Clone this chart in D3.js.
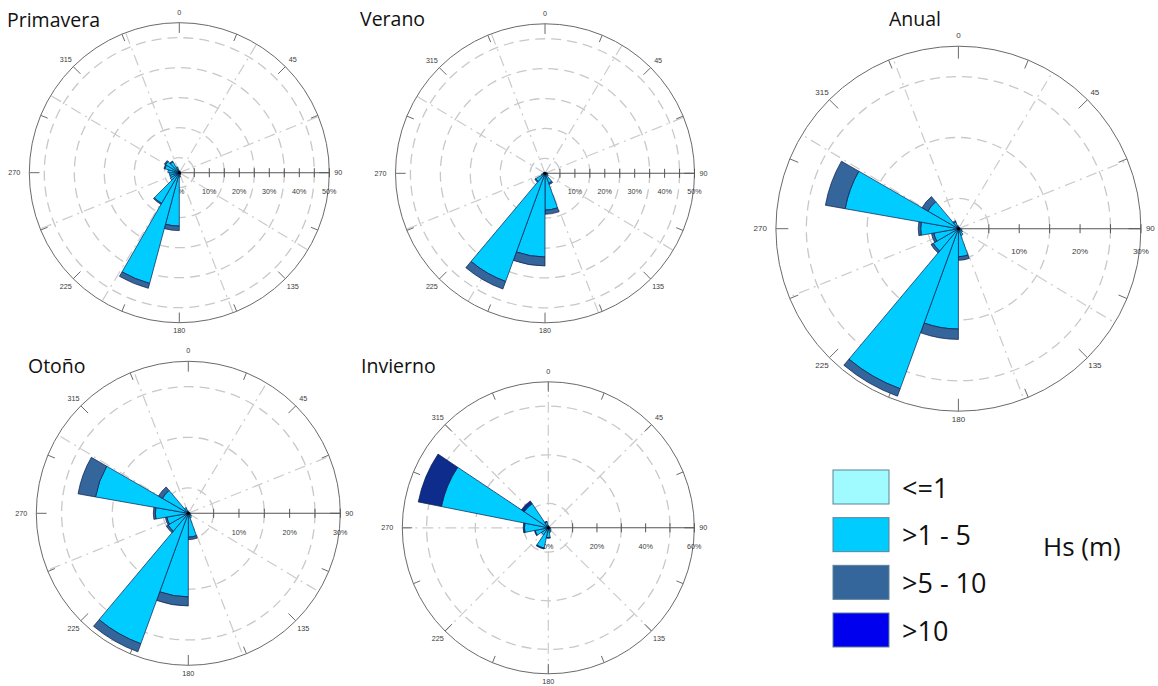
<!DOCTYPE html>
<html><head><meta charset="utf-8">
<script src="https://cdn.jsdelivr.net/npm/d3@7"></script>
<style>
html,body{margin:0;padding:0;background:#fff;}
svg{display:block;}
</style></head>
<body>
<svg id="chart" width="1158" height="686"></svg>
<script>
// ---------------- DATA ----------------
const hsClasses = ["<=1", ">1 - 5", ">5 - 10", ">10"];
const hsUnit = "Hs (m)";
const compassLabels = [0, 45, 90, 135, 180, 225, 270, 315];

// Primavera: 24 sectors of 15 deg (sector start angle)
const primaveraDirs = [0,15,30,45,60,75,90,105,120,135,150,165,180,195,210,225,240,255,270,285,300,315,330,345];
const primaveraLe1  = [0,0,0,0,0,0,0,0,0,0,0,0,0,0,0,0,0,0,0,0,0,0,0,0];
const primavera1to5 = [0.4,0.3,0.3,0.3,0.3,0.4,0.5,0.5,0.5,0.6,0.8,1.5,17.8,38.2,11.8,3.5,3.2,3.3,3.8,5.0,5.3,4.2,2.0,0.8];
const primavera5to10= [0,0,0,0,0,0,0,0,0,0,0,0,1.5,1.7,0.4,0,0,0,0,0.3,0.4,0.3,0,0];
const primaveraGt10 = [0,0,0,0,0,0,0,0,0,0,0,0,0,0,0,0,0,0,0,0,0,0,0,0];

// Verano: 18 sectors of 20 deg
const veranoDirs = [0,20,40,60,80,100,120,140,160,180,200,220,240,260,280,300,320,340];
const veranoLe1  = [0,0,0,0,0,0,0,0,0,0,0,0,0,0,0,0,0,0];
const verano1to5 = [0.3,0.3,0.3,0.4,0.8,1.0,1.2,3.5,12.3,28.0,38.5,3.6,1.2,0.6,0.5,0.4,0.3,0.3];
const verano5to10= [0,0,0,0,0,0,0,0.5,1.4,3.0,2.7,0.3,0,0,0,0,0,0];
const veranoGt10 = [0,0,0,0,0,0,0,0,0,0,0,0,0,0,0,0,0,0];

// Anual: 18 sectors of 20 deg
const anualDirs = [0,20,40,60,80,100,120,140,160,180,200,220,240,260,280,300,320,340];
const anualLe1  = [0,0,0,0,0,0,0,0,0,0,0,0,0,0,0,0,0,0];
const anual1to5 = [0.3,0.2,0.2,0.2,0.4,0.6,0.8,1.2,4.6,16.5,28.0,4.8,4.1,6.2,18.9,5.8,1.2,0.5];
const anual5to10= [0,0,0,0,0,0,0,0,0.6,1.7,1.3,0.4,0.4,0.4,3.3,1.1,0.2,0];
const anualGt10 = [0,0,0,0,0,0,0,0,0,0,0,0,0,0,0,0,0,0];

// Otoño: 18 sectors of 20 deg
const otonoDirs = [0,20,40,60,80,100,120,140,160,180,200,220,240,260,280,300,320,340];
const otonoLe1  = [0,0,0,0,0,0,0,0,0,0,0,0,0,0,0,0,0,0];
const otono1to5 = [0.3,0.2,0.2,0.2,0.4,0.5,0.7,1.0,4.7,16.5,27.4,4.6,4.3,6.5,18.6,5.9,1.2,0.5];
const otono5to10= [0,0,0,0,0,0,0,0,0.5,1.8,1.7,0.4,0.3,0.4,3.5,0.9,0,0];
const otonoGt10 = [0,0,0,0,0,0,0,0,0,0,0,0,0,0,0,0,0,0];

// Invierno: 16 sectors of 22.5 deg (sector centre angle)
const inviernoDirs = [0,22.5,45,67.5,90,112.5,135,157.5,180,202.5,225,247.5,270,292.5,315,337.5];
const inviernoLe1  = [0,0,0,0,0,0,0,0,0,0,0,0,0,0,0,0];
const invierno1to5 = [1.0,0.6,0.5,0.5,0.8,1.0,1.5,2.0,4.0,8.5,3.5,5.5,9.8,44.8,11.9,2.5];
const invierno5to10= [0,0,0,0,0,0,0,0,0.3,0.4,0,0.3,0.5,9.7,1.4,0.2];
const inviernoGt10 = [0,0,0,0,0,0,0,0,0,0,0,0,0,0,0,0];

// ---------------- STYLE / LAYOUT ----------------
const legendColors = ["#9ffbff", "#00ccff", "#34659b", "#0000ee"];
const spokesA = [31, 68, 121, 159, 211, 248, 301, 339];
const spokesB = [0, 45, 135, 180, 225, 270, 315];

const charts = [
  {title:"Primavera", tx:7, ty:27, cx:179.3, cy:172.7, R:150, max:50, step:5, lstep:10, bw:15, off:0,
   dirs:primaveraDirs, series:[primaveraLe1,primavera1to5,primavera5to10,primaveraGt10], spokes:spokesA,
   colors:["#9ffbff","#00ccff","#34659b","#0000ee"]},
  {title:"Verano", tx:360, ty:26, cx:545, cy:173.3, R:149.5, max:50, step:5, lstep:10, bw:20, off:0,
   dirs:veranoDirs, series:[veranoLe1,verano1to5,verano5to10,veranoGt10], spokes:spokesA,
   colors:["#9ffbff","#00ccff","#34659b","#0000ee"]},
  {title:"Anual", tx:889, ty:26, cx:958.4, cy:228.7, R:182.5, max:30, step:5, lstep:10, bw:20, off:0,
   dirs:anualDirs, series:[anualLe1,anual1to5,anual5to10,anualGt10], spokes:spokesA,
   colors:["#9ffbff","#00ccff","#34659b","#0000ee"]},
  {title:"Otoño", tx:28, ty:373, cx:188.3, cy:513.3, R:152, max:30, step:5, lstep:10, bw:20, off:0,
   dirs:otonoDirs, series:[otonoLe1,otono1to5,otono5to10,otonoGt10], spokes:spokesA,
   colors:["#9ffbff","#00ccff","#34659b","#0000ee"]},
  {title:"Invierno", tx:361, ty:373, cx:548.3, cy:527.8, R:146, max:60, step:10, lstep:20, bw:22.5, off:-11.25,
   dirs:inviernoDirs, series:[inviernoLe1,invierno1to5,invierno5to10,inviernoGt10], spokes:spokesB,
   colors:["#9ffbff","#00ccff","#0d2c8c","#0000ee"]}
];

const svg = d3.select("#chart");
const rad = d => d * Math.PI / 180;

charts.forEach(c => {
  const g = svg.append("g").attr("transform", `translate(${c.cx},${c.cy})`);
  const r = d3.scaleLinear().domain([0, c.max]).range([0, c.R]);

  // title
  svg.append("text").attr("x", c.tx).attr("y", c.ty)
    .attr("font-family", "'Open Sans', sans-serif").attr("font-size", 19.5)
    .attr("fill", "#111").text(c.title);

  // dashed circles at odd ticks
  const ticks = d3.range(c.step, c.max + 0.001, c.step);
  const dashed = ticks.filter((t, i) => i % 2 === 0);
  g.selectAll("circle.grid").data(dashed).join("circle")
    .attr("r", d => r(d)).attr("fill", "none")
    .attr("stroke", "#c8c8c8").attr("stroke-width", 1.3)
    .attr("stroke-dasharray", "10,6");

  // spokes (dash-dot)
  g.selectAll("line.spoke").data(c.spokes).join("line")
    .attr("x1", 0).attr("y1", 0)
    .attr("x2", d => c.R * Math.sin(rad(d))).attr("y2", d => -c.R * Math.cos(rad(d)))
    .attr("stroke", "#cbcbcb").attr("stroke-width", 1.2)
    .attr("stroke-dasharray", "11,5,2,5");

  // outer circle
  g.append("circle").attr("r", c.R).attr("fill", "none").attr("stroke", "#6a6a6a").attr("stroke-width", 1);

  // outer ticks every 22.5 deg
  const tickAngles = d3.range(0, 360, 22.5);
  g.selectAll("line.otick").data(tickAngles).join("line")
    .attr("x1", d => c.R * Math.sin(rad(d))).attr("y1", d => -c.R * Math.cos(rad(d)))
    .attr("x2", d => (c.R - (d % 45 === 0 ? c.R * 0.068 : c.R * 0.05)) * Math.sin(rad(d)))
    .attr("y2", d => -(c.R - (d % 45 === 0 ? c.R * 0.068 : c.R * 0.05)) * Math.cos(rad(d)))
    .attr("stroke", "#6a6a6a").attr("stroke-width", 1);

  // compass labels
  const lf = c.R > 170 ? 8 : 7.2;
  const lr = d => (d === 180 ? c.R + 8 : c.R + 10.5);
  g.selectAll("text.cl").data(compassLabels).join("text")
    .attr("x", d => {
      if (d === 90) return c.R + 5;
      if (d === 270) return -c.R - 9;
      return lr(d) * Math.sin(rad(d));
    })
    .attr("y", d => -lr(d) * Math.cos(rad(d)))
    .attr("text-anchor", d => d === 90 ? "start" : d === 270 ? "end" : "middle")
    .attr("dominant-baseline", "central")
    .attr("font-family", "'Liberation Sans', Arial, sans-serif").attr("font-size", lf)
    .attr("fill", "#3a3a3a").text(d => d);

  // 90-degree radial axis
  g.append("line").attr("x1", 0).attr("y1", 0).attr("x2", c.R).attr("y2", 0)
    .attr("stroke", "#555").attr("stroke-width", 1.1);
  g.selectAll("line.atick").data(ticks).join("line")
    .attr("x1", d => r(d)).attr("x2", d => r(d)).attr("y1", -4.5).attr("y2", 4.5)
    .attr("stroke", "#555").attr("stroke-width", 1);
  const pl = d3.range(0, c.max + 0.001, c.lstep);
  g.selectAll("text.pl").data(pl).join("text")
    .attr("x", d => r(d)).attr("y", c.R * 0.125)
    .attr("text-anchor", "middle").attr("dominant-baseline", "central")
    .attr("font-family", "'Liberation Sans', Arial, sans-serif").attr("font-size", lf)
    .attr("fill", "#3a3a3a").text(d => d + "%");

  // bars (stacked by Hs class)
  const arc = d3.arc();
  const bars = [];
  c.dirs.forEach((dir, i) => {
    let cum = 0;
    c.series.forEach((s, k) => {
      const v = s[i];
      if (v > 0) {
        bars.push({inner: cum, outer: cum + v, a0: dir + c.off, a1: dir + c.off + c.bw, k});
      }
      cum += v;
    });
  });
  g.selectAll("path.bar").data(bars).join("path")
    .attr("d", d => arc({innerRadius: r(d.inner), outerRadius: r(d.outer),
                         startAngle: rad(d.a0), endAngle: rad(d.a1)}))
    .attr("fill", d => c.colors[d.k])
    .attr("stroke", "#0b1d4a").attr("stroke-width", 0.7)
    .attr("stroke-linejoin", "round");
  g.append("circle").attr("r", 1.6).attr("fill", "#000");
});

// ---------------- LEGEND ----------------
const lg = svg.append("g");
const ly = d3.scaleLinear().domain([0, 3]).range([470, 613]);
lg.selectAll("rect").data(hsClasses).join("rect")
  .attr("x", 833).attr("y", (d, i) => ly(i)).attr("width", 56).attr("height", 34)
  .attr("fill", (d, i) => legendColors[i]).attr("stroke", "#5f8196").attr("stroke-width", 1);
lg.selectAll("text").data(hsClasses).join("text")
  .attr("x", 902).attr("y", (d, i) => ly(i) + 27.5)
  .attr("font-family", "'Open Sans', sans-serif").attr("font-size", 27)
  .attr("fill", "#111").text(d => d);
svg.append("text").attr("x", 1043).attr("y", 556)
  .attr("font-family", "'Open Sans', sans-serif").attr("font-size", 26)
  .attr("fill", "#111").text(hsUnit);
</script>
</body></html>
